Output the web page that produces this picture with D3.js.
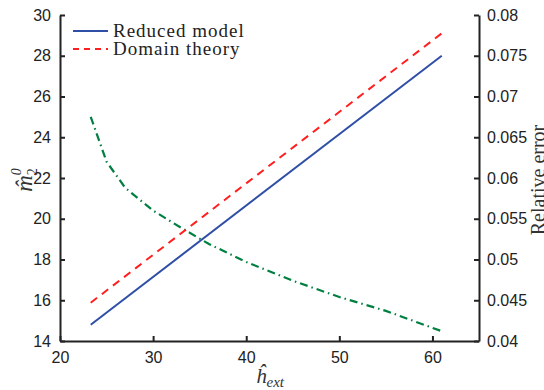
<!DOCTYPE html>
<html><head><meta charset="utf-8">
<script src="https://cdn.jsdelivr.net/npm/d3@7"></script>
<style>
body{margin:0;background:#fff;}
svg{display:block;}
.tick text{font-family:"Liberation Sans",Arial,sans-serif;font-size:16px;fill:#222;}
</style></head>
<body>
<svg id="c" width="544" height="390"></svg>
<script>
const hExt = [23.3, 61];
const reducedModel = [14.8, 28.0];
const domainTheory = [15.88, 29.1];
const errX = [23.3, 25, 27, 30, 33, 36, 40, 45, 50, 55, 61];
const relError = [0.0675, 0.0620, 0.0588, 0.0560, 0.0539, 0.0519, 0.0497, 0.0474, 0.0454, 0.0437, 0.0412];
const xTicks = [20, 30, 40, 50, 60];
const yLeftTicks = [14, 16, 18, 20, 22, 24, 26, 28, 30];
const yRightTicks = [0.04, 0.045, 0.05, 0.055, 0.06, 0.065, 0.07, 0.075, 0.08];
const legendLabels = ["Reduced model", "Domain theory"];

const svg = d3.select("#c");
const L = 60, R = 479, T = 15, B = 341;
const x = d3.scaleLinear().domain([20, 65]).range([L, R]);
const yL = d3.scaleLinear().domain([14, 30]).range([B, T]);
const yR = d3.scaleLinear().domain([0.04, 0.08]).range([B, T]);
const axisColor = "#222";

// lines
const lineL = d3.line().x(d => x(d[0])).y(d => yL(d[1]));
const lineR = d3.line().x(d => x(d[0])).y(d => yR(d[1]));
svg.append("path").datum(errX.map((v,i)=>[v, relError[i]])).attr("d", lineR)
  .attr("fill","none").attr("stroke","#008040").attr("stroke-width",2.2)
  .attr("stroke-dasharray","8,4,1.5,4");
svg.append("path").datum(hExt.map((v,i)=>[v, domainTheory[i]])).attr("d", lineL)
  .attr("fill","none").attr("stroke","#ff1f1f").attr("stroke-width",2)
  .attr("stroke-dasharray","8,6");
svg.append("path").datum(hExt.map((v,i)=>[v, reducedModel[i]])).attr("d", lineL)
  .attr("fill","none").attr("stroke","#2f4ea6").attr("stroke-width",2);

// axes
const gx = svg.append("g").attr("transform",`translate(0,${B})`)
  .call(d3.axisBottom(x).tickValues(xTicks).tickSizeInner(-5).tickSizeOuter(0).tickPadding(11));
const gl = svg.append("g").attr("transform",`translate(${L},0)`)
  .call(d3.axisLeft(yL).tickValues(yLeftTicks).tickSizeInner(-5).tickSizeOuter(0).tickPadding(9));
const gr = svg.append("g").attr("transform",`translate(${R},0)`)
  .call(d3.axisRight(yR).tickValues(yRightTicks).tickFormat(d3.format("~g")).tickSizeInner(-5).tickSizeOuter(0).tickPadding(8));
[gx, gl, gr].forEach(g => {
  g.select(".domain").attr("stroke", axisColor).attr("stroke-width", 2);
  g.selectAll(".tick line").attr("stroke", axisColor).attr("stroke-width", 2);
});
gx.selectAll(".tick text").attr("dy","0.71em");

// legend
const legend = svg.append("g");
const legColors = ["#2f4ea6", "#ff1f1f"];
const legDash = [null, "6,5"];
legendLabels.forEach((lab, i) => {
  const yy = 31 + i * 18;
  legend.append("line").attr("x1",73).attr("x2",108).attr("y1",yy).attr("y2",yy)
    .attr("stroke",legColors[i]).attr("stroke-width",2).attr("stroke-dasharray",legDash[i]);
  legend.append("text").attr("x",113).attr("y",yy+6).text(lab)
    .attr("font-family","'Liberation Serif','DejaVu Serif',serif").attr("font-size",19)
    .attr("letter-spacing",1).attr("fill","#222");
});

// axis labels
const xl = svg.append("text").attr("x",270).attr("y",383).attr("text-anchor","middle")
  .attr("font-family","'Liberation Serif',serif").attr("font-size",21).attr("fill","#333");
xl.append("tspan").attr("font-style","italic").text("ĥ");
xl.append("tspan").attr("font-style","italic").attr("font-size",15).attr("dy",4).text("ext");

const yl = svg.append("text").attr("transform","translate(32,180) rotate(-90)").attr("text-anchor","middle")
  .attr("font-family","'Liberation Serif',serif").attr("font-size",23).attr("fill","#333");
yl.append("tspan").attr("font-style","italic").text("m̂");
yl.append("tspan").attr("font-size",14).attr("dy",5).text("2");
yl.append("tspan").attr("font-size",14).attr("dx",-7).attr("dy",-16).attr("font-style","italic").text("0");

svg.append("text").attr("transform","translate(545,180) rotate(-90)").attr("text-anchor","middle")
  .attr("font-family","'Liberation Serif',serif").attr("font-size",20).attr("fill","#333")
  .text("Relative error");
</script>
</body></html>
